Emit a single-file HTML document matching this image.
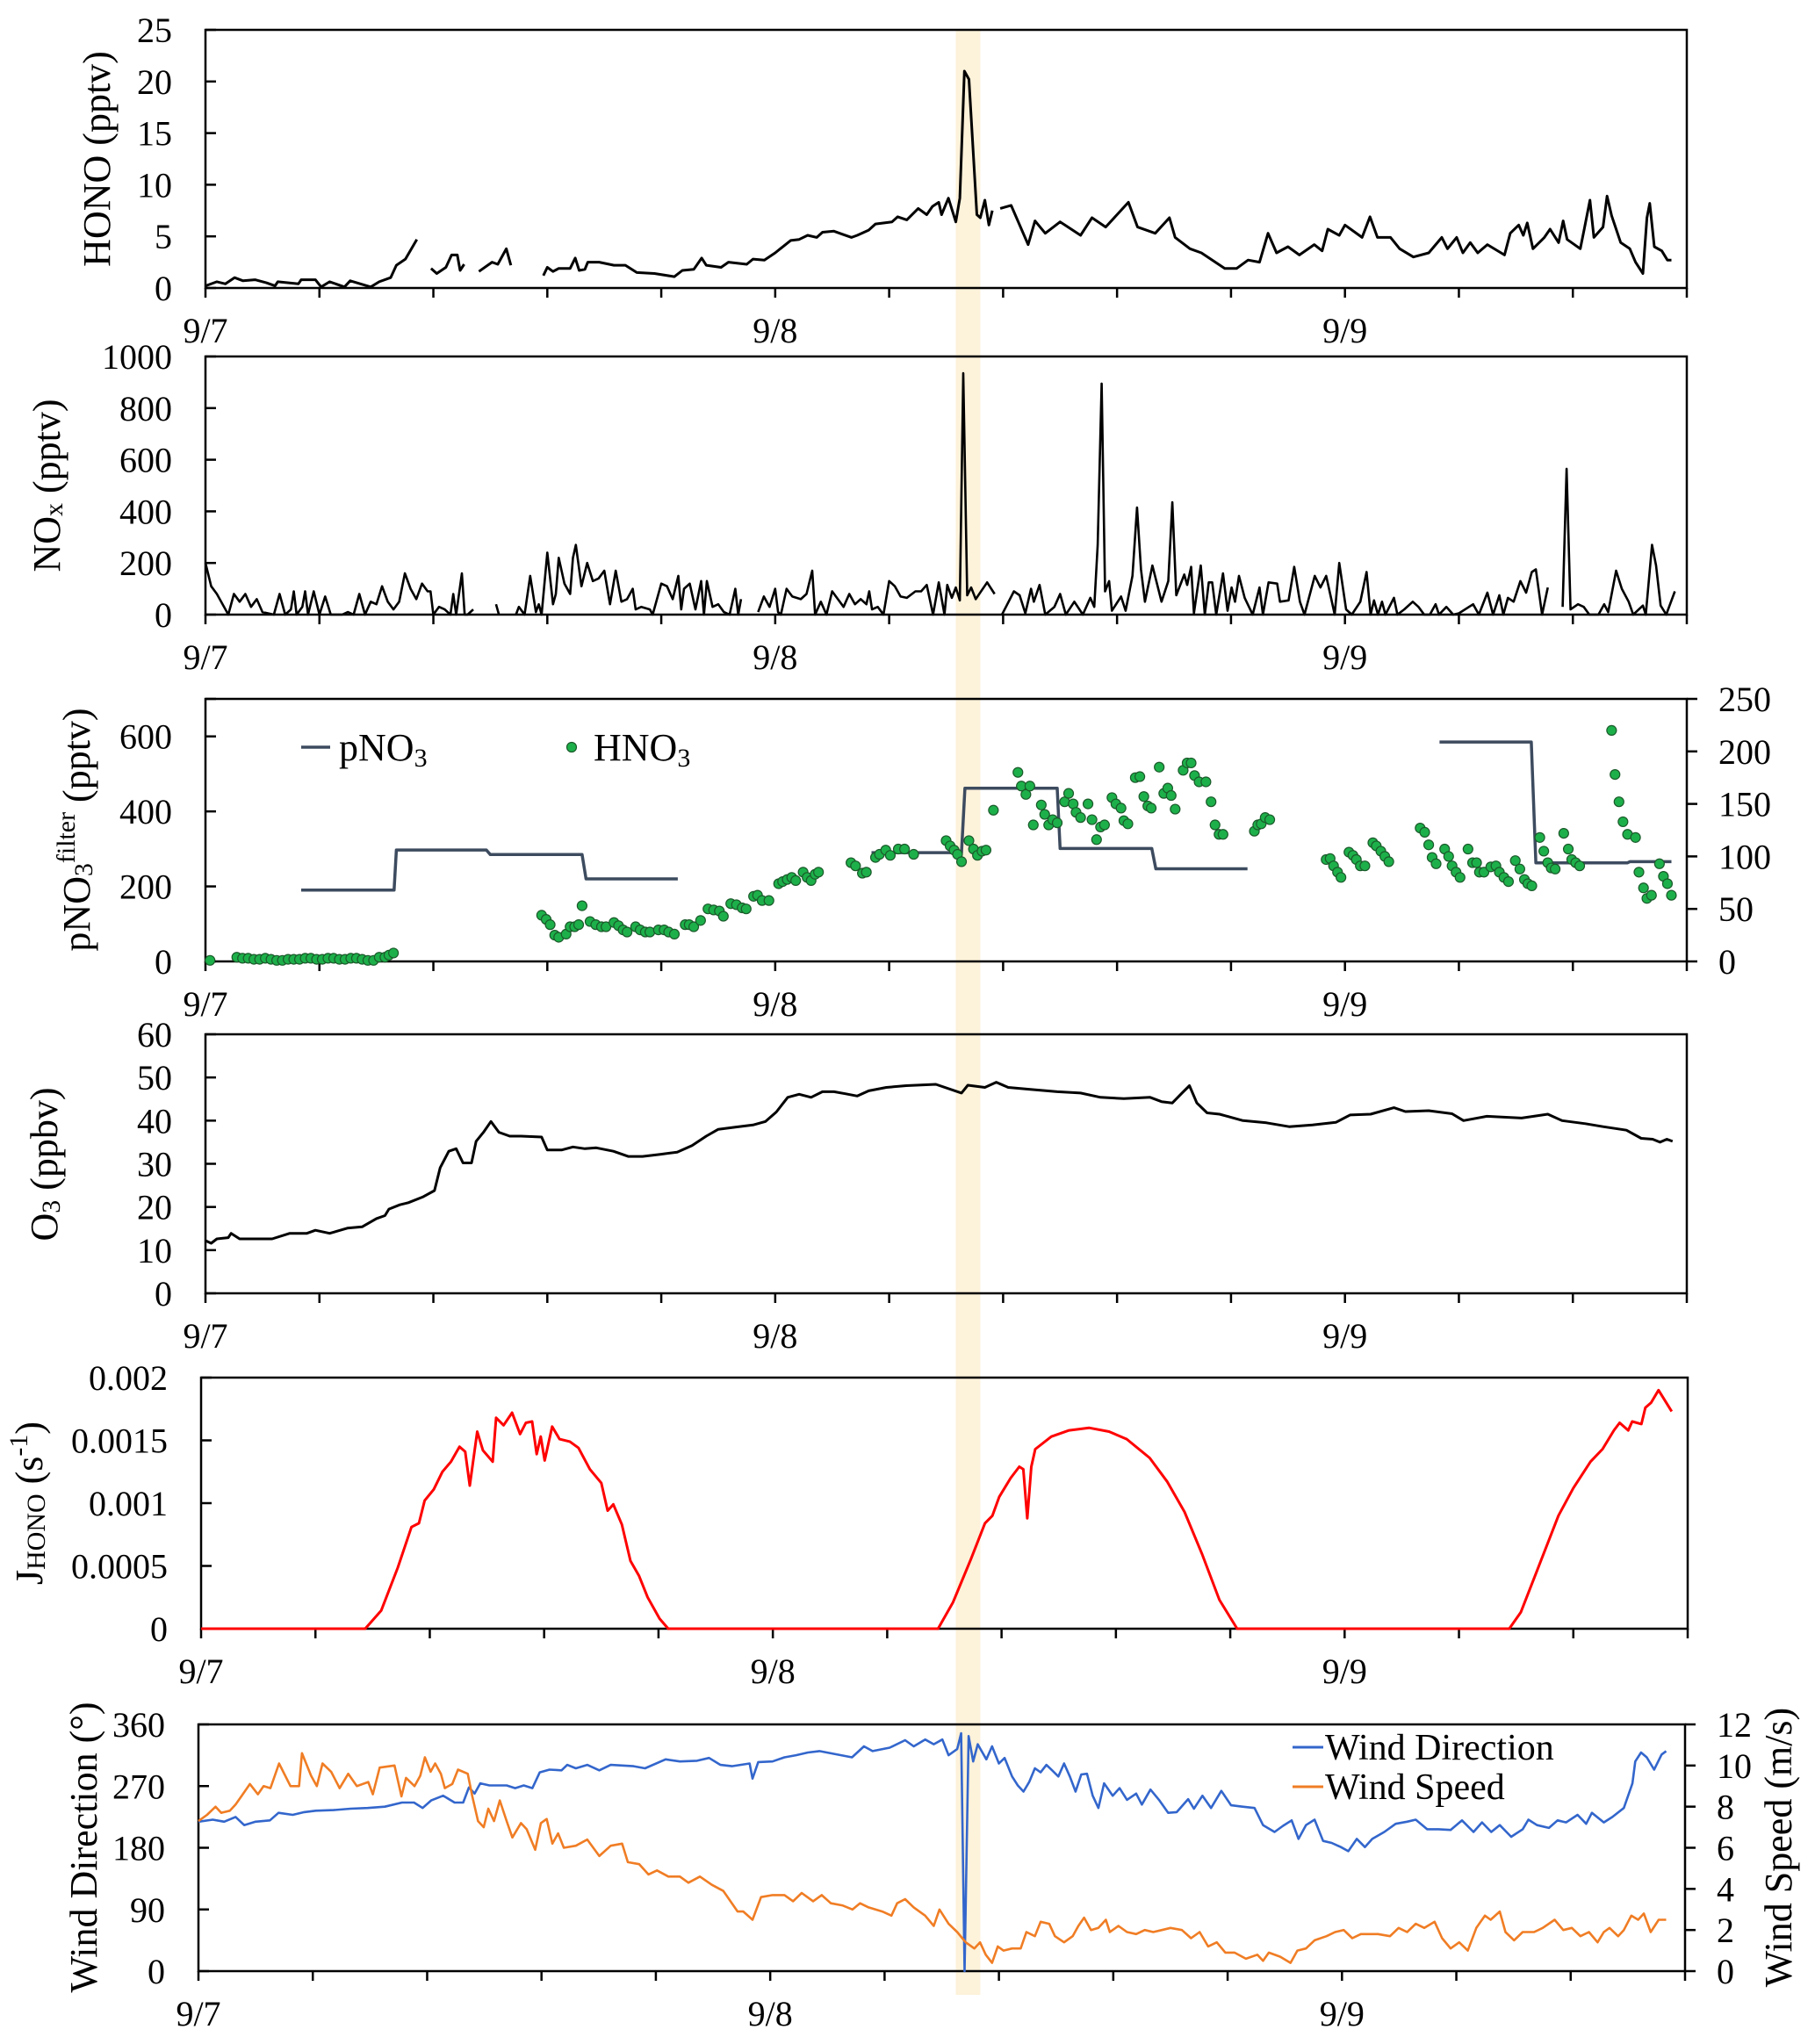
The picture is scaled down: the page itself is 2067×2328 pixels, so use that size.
<!DOCTYPE html>
<html><head><meta charset="utf-8">
<style>
html,body{margin:0;padding:0;background:#fff;}
svg{display:block;font-family:"Liberation Serif","DejaVu Serif",serif;}
</style></head>
<body>
<svg id="fig" xmlns="http://www.w3.org/2000/svg" width="2067" height="2328" viewBox="0 0 2067 2328">
<rect x="0" y="0" width="2067" height="2328" fill="#fff"/>
<g id="band"></g>
<g id="plots"></g>
</svg>
<script>
// ---- data (time in days since 9/7 00:00) ----
const xDayLabels = ["9/7","9/8","9/9"];
const xMax = 2.6;
const highlightStart = 1.317, highlightEnd = 1.36;

const honoT = [0,.02,.035,.051,.066,.087,.107,.122,.127,.163,.168,.193,.203,.218,.244,.254,.29,.305,.325,.335,.351,.371,.383,
 .396,.406,.422,.432,.442,.447,.454,.467,
 .48,.503,.513,.528,.536,.56,
 .593,.6,.61,.62,.64,.649,.656,.666,.671,.691,.717,.737,.757,.788,.823,.837,.857,.871,.879,.905,.918,.95,.961,.981,1.0,1.027,1.042,1.057,1.073,1.083,1.103,1.118,1.134,1.144,1.164,1.176,1.205,1.215,1.231,1.251,1.266,1.276,1.287,1.292,1.304,1.317,1.324,1.332,1.34,1.354,1.36,1.368,1.375,1.381,1.388,
 1.395,1.414,1.444,1.456,1.474,1.5,1.536,1.556,1.58,1.62,1.636,1.667,1.692,1.702,1.728,1.748,1.789,1.81,1.83,1.85,1.865,1.88,1.9,1.92,1.946,1.96,1.97,1.99,2.0,2.03,2.044,2.057,2.08,2.096,2.12,2.147,2.17,2.18,2.196,2.207,2.22,2.233,2.25,2.28,2.29,2.305,2.313,2.32,2.33,2.35,2.36,2.375,2.383,2.39,2.413,2.42,2.43,2.437,2.453,2.46,2.468,2.484,2.5,2.51,2.523,2.53,2.535,2.543,2.556,2.566,2.573];
const honoV = [.2,.6,.4,1.0,.7,.8,.5,.2,.6,.4,.8,.8,.1,.6,.1,.7,.1,.6,1.0,2.2,2.8,4.7,null,
 1.9,1.4,2.0,3.2,3.2,1.7,2.3,null,
 1.6,2.5,2.3,3.8,2.2,null,
 1.2,2.0,1.6,1.9,1.9,2.9,1.7,1.8,2.5,2.5,2.2,2.2,1.5,1.4,1.1,1.7,1.8,2.9,2.2,2.0,2.5,2.3,2.8,2.7,3.4,4.6,4.7,5.1,4.9,5.4,5.5,5.2,4.9,5.1,5.6,6.2,6.4,6.9,6.6,7.7,7.1,7.9,8.3,7.1,8.7,6.4,8.7,21.0,20.2,7.1,6.8,8.5,6.1,7.5,null,
 7.7,8.0,4.2,6.5,5.3,6.4,5.1,6.8,5.9,8.3,5.9,5.3,6.8,4.9,3.8,3.4,1.9,1.9,2.7,2.5,5.3,3.4,4.0,3.2,4.2,3.6,5.7,5.1,6.1,4.9,6.9,4.9,4.9,3.8,3.0,3.4,4.9,3.8,4.9,3.4,4.4,3.4,4.2,3.2,5.3,6.1,5.1,6.3,3.8,4.9,5.7,4.4,6.5,4.7,3.8,5.7,8.5,4.9,5.9,8.9,7.0,4.4,3.8,2.5,1.4,6.8,8.2,4.0,3.6,2.7,2.7];

const noxT = [0,.01,.02,.03,.04,.05,.06,.07,.08,.09,.1,.12,.13,.14,.15,.155,.16,.17,.175,.18,.19,.2,.21,.22,.24,.25,.26,.27,.28,.29,.3,.31,.32,.33,.34,.35,.36,.37,.38,.39,.395,.4,.41,.42,.43,.435,.44,.45,.455,.46,.47,.48,
 .51,.515,.53,
 .545,.55,.56,.57,.58,.585,.59,.6,.61,.615,.62,.63,.64,.645,.65,.66,.67,.68,.69,.7,.71,.72,.73,.74,.75,.755,.765,.78,.785,.8,.81,.82,.83,.835,.84,.85,.86,.87,.875,.88,.89,.9,.91,.92,.93,.935,.94,.95,
 .97,.98,.99,1.0,1.005,1.01,1.02,1.03,1.045,1.055,1.065,1.07,1.08,1.09,1.1,1.11,1.12,1.13,1.14,1.15,1.16,1.165,1.17,1.18,1.19,1.2,1.21,1.22,1.231,1.246,1.256,1.266,1.277,1.287,1.297,1.302,1.31,1.317,1.324,1.33,1.337,1.344,1.352,1.372,1.385,1.39,
 1.398,1.419,1.429,1.439,1.449,1.454,1.464,1.474,1.49,1.5,1.51,1.525,1.54,1.553,1.56,1.566,1.573,1.579,1.586,1.591,1.607,1.615,1.627,1.635,1.642,1.649,1.662,1.678,1.69,1.697,1.704,1.718,1.723,1.73,1.735,1.747,1.754,1.761,1.767,1.774,1.786,1.794,1.801,1.807,1.814,1.824,1.838,1.85,1.856,1.866,1.881,1.886,1.901,1.911,1.921,1.929,1.947,1.957,1.967,1.977,1.982,1.99,2.002,2.012,2.027,2.038,2.045,2.051,2.058,2.065,2.071,2.086,2.092,2.104,2.119,2.129,2.139,2.149,2.159,2.165,2.178,2.19,2.2,2.225,2.235,2.25,2.26,2.271,2.278,2.286,2.296,2.308,2.318,2.328,2.335,2.346,2.356,2.37,
 2.382,2.389,2.396,2.409,2.419,2.429,2.445,2.455,2.462,2.476,2.486,2.498,2.506,2.523,2.528,2.539,2.546,2.554,2.564,2.579];
const noxV = [200,110,80,40,0,80,50,80,30,60,10,0,80,0,20,90,0,30,90,0,90,0,70,0,0,10,0,80,0,50,40,110,50,20,50,160,100,60,120,90,90,0,30,20,0,80,0,160,0,0,20,null,
 40,0,null,
 0,30,0,150,10,40,0,240,40,80,220,120,80,220,270,110,200,130,140,170,40,170,50,60,100,20,30,20,0,120,110,60,150,20,100,120,20,130,0,130,30,40,10,0,100,0,60,null,
 10,70,30,100,10,0,100,70,60,80,170,0,50,0,90,60,30,80,40,60,40,90,20,30,0,130,110,70,65,90,90,115,0,125,0,115,65,105,55,935,75,105,60,125,80,null,
 0,90,75,5,100,50,115,0,30,80,0,50,0,65,30,270,895,90,130,15,70,15,150,415,175,50,190,50,130,435,75,155,115,185,5,190,0,125,125,0,160,15,105,50,150,65,0,105,0,125,120,50,55,185,50,0,150,105,150,50,0,200,20,0,50,165,0,55,0,50,0,65,0,20,50,30,0,0,40,0,30,0,5,40,0,85,0,75,0,65,50,130,85,165,175,0,105,null,
 30,565,20,40,30,0,0,40,10,170,100,50,0,35,0,270,190,35,0,90];

// pNO3 filter (left axis, step line)
const pno3T = [.168,.331,.335,.493,.5,.661,.668,.829,null,1.169,1.327,1.333,1.495,1.5,1.661,1.668,1.829,null,2.166,2.327,2.335,2.496,2.5,2.573];
const pno3V = [190,190,297,297,285,285,220,220,null,290,290,462,462,301,301,247,247,null,585,585,263,263,266,266];

// HNO3 (right axis)
const hno3T = [.008,.055,.065,.075,.085,.095,.105,.115,.125,.135,.145,.155,.165,.175,.185,.195,.205,.215,.225,.235,.245,.255,.265,.275,.285,.295,.305,.315,.322,.33,
 .59,.598,.605,.613,.62,.633,.64,.648,.655,.661,.675,.685,.695,.703,.717,.725,.733,.74,.755,.763,.772,.78,.795,.805,.813,.823,.842,.849,.857,.869,.882,.892,.902,.909,.922,.932,.942,.949,.962,.969,.977,.989,1.006,1.013,1.021,1.029,1.036,1.049,1.056,1.063,1.07,1.076,1.133,1.141,1.153,1.16,1.176,1.183,1.194,1.202,1.216,1.227,
 1.243,1.3,1.307,1.314,1.32,1.327,1.34,1.348,1.355,1.363,1.37,1.383,1.426,1.432,1.44,1.447,1.453,1.467,1.473,1.48,1.487,1.495,1.508,1.515,1.523,1.528,1.536,1.549,1.556,1.564,1.571,1.578,1.591,1.598,1.607,1.612,1.619,1.632,1.64,1.647,1.654,1.66,1.674,1.682,1.689,1.695,1.702,1.716,1.723,1.73,1.736,1.744,1.756,1.765,1.772,1.779,1.786,1.841,1.847,1.853,1.86,1.868,
 1.967,1.974,1.98,1.987,1.993,2.007,2.014,2.02,2.027,2.035,2.049,2.055,2.063,2.07,2.077,2.132,2.14,2.147,2.153,2.16,2.175,2.182,2.188,2.195,2.202,2.216,2.224,2.231,2.236,2.244,2.256,2.265,2.271,2.279,2.287,2.299,2.307,2.315,2.321,2.328,2.342,2.349,2.356,2.362,2.369,2.384,2.392,2.398,2.405,2.412,2.468,2.474,2.481,2.488,2.496,2.51,2.516,2.524,2.53,2.538,2.552,2.559,2.566,2.573];
const hno3V = [1,4,3,3,2,2,3,2,1,1,2,2,2,3,3,2,2,3,3,2,2,3,3,2,1,1,4,4,6,8,
 44,40,35,25,23,26,33,33,35,53,38,35,33,33,37,34,30,28,33,30,28,28,30,30,28,26,35,35,33,39,50,49,48,43,55,54,51,50,62,63,58,58,74,76,78,80,77,85,80,77,83,85,94,91,84,85,99,102,106,101,107,107,
 102,115,110,106,102,95,115,107,101,105,106,144,180,167,159,167,130,149,140,130,135,132,152,160,150,142,137,150,135,116,128,130,156,150,146,134,131,175,176,157,148,146,185,160,165,158,145,182,189,189,177,171,171,152,130,121,121,124,130,131,137,135,
 97,98,91,85,80,104,101,97,91,91,113,110,105,100,95,127,123,111,99,93,107,100,91,85,80,107,94,94,85,85,90,91,85,80,76,96,88,78,74,72,118,105,94,89,88,122,107,97,94,91,220,178,152,133,121,118,85,70,60,63,93,81,74,63];

const o3T = [0,.01,.02,.04,.045,.06,.087,.117,.148,.178,.193,.218,.249,.275,.3,.315,.322,.341,.356,.381,.402,.412,.427,.44,.452,.467,.475,.488,.501,.515,.534,.554,.59,.6,.625,.645,.666,.686,.716,.742,.767,.798,.828,.854,.879,.9,.93,.961,.983,1.002,1.022,1.042,1.063,1.083,1.103,1.124,1.144,1.164,1.195,1.23,1.282,1.327,1.338,1.368,1.388,1.409,1.45,1.495,1.536,1.571,1.612,1.658,1.678,1.697,1.714,1.727,1.74,1.758,1.78,1.821,1.862,1.902,1.943,1.984,2.009,2.045,2.086,2.106,2.147,2.188,2.208,2.249,2.31,2.356,2.381,2.422,2.453,2.494,2.52,2.54,2.553,2.565,2.575];
const o3V = [12.2,11.6,12.6,12.9,13.9,12.6,12.6,12.6,13.9,13.9,14.6,13.9,15.1,15.4,17.3,18.0,19.5,20.5,21.0,22.3,23.8,29.1,32.9,33.5,30.2,30.2,35.2,37.3,39.8,37.3,36.4,36.4,36.2,33.2,33.2,33.9,33.5,33.7,32.9,31.7,31.7,32.2,32.7,34.2,36.4,38.0,38.5,39.0,39.8,42.0,45.4,46.1,45.4,46.7,46.7,46.2,45.7,46.9,47.7,48.1,48.4,46.4,48.2,47.7,48.9,47.7,47.2,46.7,46.4,45.4,45.1,45.4,44.4,44.1,46.4,48.1,44.1,41.8,41.5,40.0,39.5,38.6,39.0,39.6,41.3,41.5,43.0,42.1,42.3,41.6,40.0,41.0,40.6,41.5,40.0,39.3,38.6,37.8,35.9,35.7,35.0,35.7,35.2];

const jT = [0,.287,.315,.344,.368,.381,.391,.407,.422,.437,.452,.462,.47,.483,.493,.51,.516,.529,.544,.558,.568,.579,.587,.594,.601,.614,.627,.645,.66,.68,.7,.711,.721,.736,.751,.766,.781,.802,.817,1.289,1.315,1.346,1.371,1.384,1.396,1.416,1.431,1.438,1.445,1.452,1.459,1.487,1.518,1.553,1.588,1.619,1.659,1.69,1.72,1.751,1.781,1.812,2.288,2.308,2.339,2.374,2.4,2.43,2.451,2.471,2.481,2.496,2.503,2.519,2.526,2.536,2.549,2.572];
const jV = [0,0,.000144,.000486,.00081,.00084,.00102,.00111,.00125,.00133,.00145,.00141,.00114,.00157,.00142,.00133,.00168,.00162,.00172,.00155,.00164,.00165,.00139,.00153,.00134,.00161,.00151,.00149,.00144,.00127,.00116,.00094,.00099,.00083,.00054,.00042,.00025,.00008,0,0,.00021,.00055,.00084,.0009,.00105,.0012,.00129,.00127,.00088,.00129,.00143,.00153,.00158,.0016,.00157,.00151,.00136,.00117,.00093,.00059,.00023,0,0,.00013,.00049,.0009,.00112,.00133,.00143,.00158,.00164,.00158,.00165,.00163,.00176,.0018,.0019,.00173];

const wdT = [0,.025,.045,.065,.08,.1,.125,.14,.165,.185,.205,.236,.266,.296,.326,.356,.377,.392,.407,.428,.448,.463,.473,.483,.493,.509,.539,.554,.569,.584,.597,.614,.635,.645,.66,.68,.701,.721,.761,.781,.817,.842,.872,.893,.913,.933,.964,.969,.979,1.004,1.025,1.045,1.066,1.086,1.143,1.164,1.179,1.209,1.236,1.251,1.271,1.286,1.301,1.312,1.327,1.334,1.34,1.347,1.355,1.363,1.378,1.388,1.4,1.41,1.423,1.433,1.443,1.453,1.463,1.473,1.483,1.493,1.504,1.514,1.524,1.534,1.544,1.554,1.564,1.574,1.584,1.599,1.611,1.624,1.64,1.65,1.665,1.68,1.696,1.711,1.731,1.741,1.756,1.771,1.789,1.806,1.826,1.847,1.862,1.882,1.897,1.912,1.924,1.937,1.952,1.967,1.982,1.998,2.011,2.026,2.04,2.053,2.074,2.094,2.114,2.129,2.149,2.169,2.19,2.21,2.23,2.245,2.261,2.276,2.296,2.316,2.326,2.341,2.362,2.377,2.392,2.412,2.427,2.437,2.458,2.473,2.493,2.508,2.513,2.523,2.533,2.546,2.559,2.567];
const wdV = [218,221,218,225,213,218,220,231,228,232,234,235,237,238,240,246,246,238,249,256,246,246,268,259,274,271,271,267,271,267,290,294,293,301,296,301,293,301,299,296,309,306,307,311,301,299,303,281,305,306,312,315,319,321,312,328,321,326,337,328,338,331,338,315,324,347,0,343,306,331,309,328,303,311,284,271,262,276,296,290,301,293,284,303,284,262,287,288,256,238,274,256,267,250,259,243,265,250,231,232,251,237,256,238,263,242,240,238,213,203,212,220,193,213,221,190,187,181,175,193,181,193,203,215,218,221,207,207,206,220,203,217,203,213,196,207,221,213,209,220,217,228,215,231,217,225,238,274,306,319,312,294,316,321];

const wsT = [0,.015,.03,.04,.055,.065,.075,.09,.104,.114,.126,.141,.161,.176,.181,.197,.207,.217,.232,.247,.262,.277,.297,.305,.317,.343,.355,.363,.378,.388,.396,.406,.414,.424,.431,.444,.454,.471,.479,.489,.499,.507,.517,.527,.539,.549,.564,.574,.589,.599,.609,.619,.629,.639,.66,.68,.701,.721,.741,.751,.771,.787,.802,.822,.842,.857,.877,.898,.918,.943,.953,.969,.984,1.004,1.025,1.04,1.055,1.075,1.09,1.106,1.126,1.144,1.157,1.172,1.196,1.212,1.222,1.236,1.251,1.271,1.286,1.296,1.312,1.327,1.342,1.357,1.367,1.377,1.388,1.398,1.408,1.423,1.438,1.448,1.463,1.473,1.488,1.498,1.514,1.529,1.539,1.549,1.561,1.574,1.587,1.594,1.609,1.624,1.64,1.655,1.67,1.685,1.7,1.72,1.736,1.751,1.766,1.781,1.796,1.812,1.832,1.852,1.862,1.872,1.892,1.91,1.922,1.937,1.952,1.973,1.988,2.003,2.018,2.033,2.063,2.084,2.099,2.114,2.129,2.144,2.162,2.175,2.19,2.205,2.22,2.235,2.25,2.26,2.276,2.286,2.301,2.316,2.336,2.351,2.372,2.387,2.402,2.417,2.432,2.447,2.458,2.468,2.483,2.493,2.506,2.518,2.528,2.54,2.554,2.567];
const wsV = [7.3,7.6,8.0,7.7,7.8,8.1,8.5,9.1,8.6,9.0,8.9,10.1,9.0,9.0,10.6,9.5,9.0,10.1,9.7,8.9,9.6,9.0,9.2,8.6,9.9,10.0,8.5,9.4,9.0,9.5,10.4,9.7,10.1,9.6,8.9,9.1,9.8,9.6,8.5,7.3,7.0,7.9,7.3,8.3,7.3,6.5,7.2,6.9,5.9,7.2,7.4,6.2,6.7,6.0,6.1,6.4,5.6,6.1,6.2,5.3,5.2,4.7,4.9,4.6,4.6,4.3,4.6,4.2,3.9,2.9,2.9,2.5,3.6,3.7,3.7,3.4,3.8,3.4,3.7,3.3,3.2,3.0,3.3,3.1,2.9,2.7,3.3,3.5,3.1,2.7,2.2,3.0,2.3,1.9,1.4,1.1,1.4,0.8,0.4,1.2,1.0,1.1,1.1,1.9,1.7,2.4,2.3,1.7,1.4,1.7,2.2,2.6,2.0,2.1,2.5,1.9,2.2,1.9,1.8,2.0,1.9,2.0,2.1,2.0,1.6,1.9,1.2,1.4,0.9,0.9,0.6,0.8,0.5,0.9,0.7,0.4,1.0,1.1,1.5,1.7,1.9,2.0,1.6,1.8,1.8,1.7,2.1,1.9,2.3,2.1,2.4,1.6,1.1,1.4,1.0,2.1,2.7,2.5,2.9,1.9,1.5,1.9,1.9,2.1,2.5,2.0,2.1,1.7,1.9,1.4,1.9,2.1,1.7,2.0,2.7,2.5,2.8,1.9,2.5,2.5];

// ---- drawing ----
const NS = "http://www.w3.org/2000/svg";
const plots = document.getElementById('plots');
const FONT = 40;

function el(tag, attrs, parent, text){
  const e = document.createElementNS(NS, tag);
  for (const k in attrs) e.setAttribute(k, attrs[k]);
  if (text !== undefined) e.textContent = text;
  (parent || plots).appendChild(e);
  return e;
}

function makeAxes(p){
  const g = el('g', {});
  
  
  p.g = g;
  p.sx = t => p.L + t / xMax * (p.R - p.L);
  p.sy = v => p.B - (v - p.ymin) / (p.ymax - p.ymin) * (p.B - p.T);
  if (p.ymax2 !== undefined) p.sy2 = v => p.B - v / p.ymax2 * (p.B - p.T);
  const fr = el('rect', {x:p.L, y:p.T, width:p.R-p.L, height:p.B-p.T, fill:'none', stroke:'#000', 'stroke-width':2.5}, g);
  
  
  // x ticks
  const xg = el('g', {}, g);
  
  
  for (let i = 0; i <= 13; i++) {
    const x = p.sx(i * 0.2);
    el('line', {x1:x, x2:x, y1:p.B, y2:p.B+11, stroke:'#000', 'stroke-width':2.5}, xg);
  }
  xDayLabels.forEach((lab, i) => {
    const t = el('text', {x:p.sx(i), y:p.B+62, 'font-size':FONT, 'text-anchor':'middle'}, xg, lab);
    
    
  });
  // y ticks left
  const yg = el('g', {}, g);
  
  
  p.yticks.forEach((v, i) => {
    const y = p.sy(v);
    el('line', {x1:p.L, x2:p.L+12, y1:y, y2:y, stroke:'#000', 'stroke-width':2.5}, yg);
    if (p.ylabels[i] !== '') {
      const t = el('text', {x:p.L-38, y:y+14, 'font-size':FONT, 'text-anchor':'end'}, yg, p.ylabels[i]);
      
      
    }
  });
  if (p.yticks2) {
    const yg2 = el('g', {}, g);
    
    
    p.yticks2.forEach(v => {
      const y = p.sy2(v);
      el('line', {x1:p.R, x2:p.R+12, y1:y, y2:y, stroke:'#000', 'stroke-width':2.5}, yg2);
      const t = el('text', {x:p.R+36, y:y+14, 'font-size':FONT, 'text-anchor':'start'}, yg2, String(v));
      
      
    });
  }
  return p;
}

function linePath(p, T, V, sy){
  let d = '', pen = false;
  for (let i = 0; i < T.length; i++) {
    if (V[i] === null || T[i] === null) { pen = false; continue; }
    d += (pen ? 'L' : 'M') + p.sx(T[i]).toFixed(1) + ',' + sy(V[i]).toFixed(1);
    pen = true;
  }
  return d;
}

function drawLine(p, T, V, color, name, sy, w){
  const path = el('path', {d:linePath(p, T, V, sy || p.sy), fill:'none', stroke:color, 'stroke-width':w||3, 'stroke-linejoin':'round'}, p.g);
  
  
  return path;
}

function ylabel(x, y, parts, name, size){
  const t = el('text', {x:x, y:y, 'font-size':size||44, 'text-anchor':'middle', transform:'rotate(-90 '+x+' '+y+')', 'dominant-baseline':'middle'});
  
  
  parts.forEach(pt => {
    const s = el('tspan', {}, t, pt[0]);
    if (pt[1] === 'sub') { s.setAttribute('baseline-shift', '-22%'); s.setAttribute('font-size', (size||44)*0.68); }
    if (pt[1] === 'sup') { s.setAttribute('baseline-shift', '45%'); s.setAttribute('font-size', (size||44)*0.68); }
  });
  return t;
}

// highlight band
const p1 = {name:'hono', L:234, R:1921, T:34, B:328, ymin:0, ymax:25, yticks:[0,5,10,15,20,25], ylabels:['0','5','10','15','20','25']};
makeAxes(p1);
const bx1 = p1.sx(highlightStart), bx2 = p1.sx(highlightEnd);
const band = el('rect', {x:bx1, y:34, width:bx2-bx1, height:2272-34, fill:'#fdf2da'}, document.getElementById('band'));



drawLine(p1, honoT, honoV, '#000', 'hono-line');
ylabel(115, 181, [['HONO (pptv)']], 'hono-y-axis-title');

const p2 = {name:'nox', L:234, R:1921, T:406, B:700, ymin:0, ymax:1000, yticks:[0,200,400,600,800,1000], ylabels:['0','200','400','600','800','1000']};
makeAxes(p2);
drawLine(p2, noxT, noxV, '#000', 'nox-line', null, 2.6);
ylabel(58, 553, [['NO'],['x','sub'],[' (pptv)']], 'nox-y-axis-title');

const p3 = {name:'nitrate', L:234, R:1921, T:796, B:1095, ymin:0, ymax:700, yticks:[0,200,400,600,700], ylabels:['0','200','400','600',''], ymax2:250, yticks2:[0,50,100,150,200,250]};
makeAxes(p3);
drawLine(p3, pno3T, pno3V, '#3d4b5f', 'pno3-line', null, 3.5);
const dots = el('g', {}, p3.g);


for (let i = 0; i < hno3T.length; i++) {
  const c = el('circle', {cx:p3.sx(hno3T[i]), cy:p3.sy2(hno3V[i]), r:5.5, fill:'#1db04a', stroke:'#1a5a2a', 'stroke-width':1.2}, dots);
  
  
}
ylabel(92, 945, [['pNO'],['3','sub'],['filter','sup'],[' (pptv)']], 'nitrate-y-axis-title');
// legend
const lg = el('g', {});


el('line', {x1:343, x2:376, y1:851, y2:851, stroke:'#3d4b5f', 'stroke-width':3.5}, lg);
const l1 = el('text', {x:386, y:866, 'font-size':44}, lg);


el('tspan', {}, l1, 'pNO'); el('tspan', {'baseline-shift':'-22%', 'font-size':30}, l1, '3');
el('circle', {cx:651, cy:851, r:5.5, fill:'#1db04a', stroke:'#1a5a2a', 'stroke-width':1.2}, lg);
const l2 = el('text', {x:676, y:866, 'font-size':44}, lg);


el('tspan', {}, l2, 'HNO'); el('tspan', {'baseline-shift':'-22%', 'font-size':30}, l2, '3');

const p4 = {name:'o3', L:234, R:1921, T:1178, B:1473, ymin:0, ymax:60, yticks:[0,10,20,30,40,50,60], ylabels:['0','10','20','30','40','50','60']};
makeAxes(p4);
drawLine(p4, o3T, o3V, '#000', 'o3-line');
ylabel(55, 1326, [['O'],['3','sub'],[' (ppbv)']], 'o3-y-axis-title');

const p5 = {name:'jhono', L:229, R:1922, T:1569, B:1855, ymin:0, ymax:0.002, yticks:[0,0.0005,0.001,0.0015,0.002], ylabels:['0','0.0005','0.001','0.0015','0.002']};
makeAxes(p5);
drawLine(p5, jT, jV, '#ff0000', 'jhono-line');
ylabel(38, 1712, [['J'],['HONO','sub'],[' (s'],['-1','sup'],[')']], 'jhono-y-axis-title');

const p6 = {name:'wind', L:226, R:1919, T:1964, B:2245, ymin:0, ymax:360, yticks:[0,90,180,270,360], ylabels:['0','90','180','270','360'], ymax2:12, yticks2:[0,2,4,6,8,10,12]};
makeAxes(p6);
drawLine(p6, wdT, wdV, '#3366cc', 'wind-direction-line', null, 2.6);
drawLine(p6, wsT, wsV, '#f07d24', 'wind-speed-line', p6.sy2, 2.6);
ylabel(100, 2104, [['Wind Direction (°)']], 'wind-direction-y-axis-title');
ylabel(2030, 2104, [['Wind Speed (m/s)']], 'wind-speed-y-axis-title');
const wl = el('g', {});


el('line', {x1:1472, x2:1507, y1:1990, y2:1990, stroke:'#3366cc', 'stroke-width':3}, wl);
const w1 = el('text', {x:1509, y:2004, 'font-size':42}, wl, 'Wind Direction');


el('line', {x1:1472, x2:1507, y1:2035, y2:2035, stroke:'#f07d24', 'stroke-width':3}, wl);
const w2 = el('text', {x:1509, y:2049, 'font-size':42}, wl, 'Wind Speed');


</script>
</body></html>
